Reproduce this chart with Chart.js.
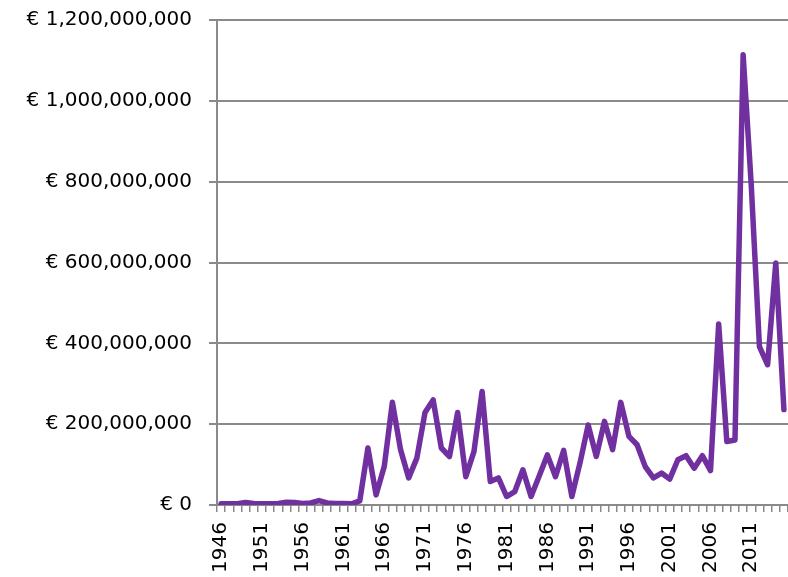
<!DOCTYPE html>
<html>
<head>
<meta charset="utf-8">
<script src="https://cdn.jsdelivr.net/npm/chart.js@4.4.1/dist/chart.umd.min.js"></script>
<style>
  html, body { margin: 0; padding: 0; background: #ffffff; }
  #c { display: block; }
</style>
</head>
<body>
<canvas id="c" width="788" height="577"></canvas>
<script>
const years = [1946,1947,1948,1949,1950,1951,1952,1953,1954,1955,
               1956,1957,1958,1959,1960,1961,1962,1963,1964,1965,
               1966,1967,1968,1969,1970,1971,1972,1973,1974,1975,
               1976,1977,1978,1979,1980,1981,1982,1983,1984,1985,
               1986,1987,1988,1989,1990,1991,1992,1993,1994,1995,
               1996,1997,1998,1999,2000,2001,2002,2003,2004,2005,
               2006,2007,2008,2009,2010,2011,2012,2013,2014,2015];

// values in millions of euro
const valuesMillions = [3,3,3,6,4,3,3,4,7,6,
                        4,5,11,5,4,4,3,10,141,25,
                        95,254,137,67,116,229,260,141,120,229,
                        70,132,281,58,67,21,33,87,21,72,
                        124,70,135,21,104,198,120,207,137,254,
                        170,149,95,67,79,64,112,122,91,122,
                        85,448,157,161,1114,790,392,347,599,236];

const shownYearLabels = [1946,1951,1956,1961,1966,1971,1976,1981,1986,1991,1996,2001,2006,2011];
const yTickValues = [0,200000000,400000000,600000000,800000000,1000000000,1200000000];

const values = valuesMillions.map(v => v * 1000000);

const gridGray = '#8a8a8a';
const fontSpec = { family: "'DejaVu Sans', sans-serif", size: 20 };

new Chart(document.getElementById('c'), {
  type: 'line',
  data: {
    labels: years.map(String),
    datasets: [{
      data: values,
      borderColor: '#7030A0',
      backgroundColor: '#7030A0',
      borderWidth: 5.5,
      pointRadius: 0,
      pointHoverRadius: 0,
      tension: 0,
      borderJoinStyle: 'round',
      borderCapStyle: 'round',
      fill: false
    }]
  },
  options: {
    responsive: false,
    animation: false,
    events: [],
    layout: { padding: { top: 20, right: 0, bottom: 0, left: 0 } },
    plugins: { legend: { display: false }, tooltip: { enabled: false } },
    scales: {
      x: {
        type: 'category',
        offset: true,
        grid: {
          offset: true,
          drawOnChartArea: false,
          drawTicks: true,
          tickLength: 7,
          color: gridGray,
          lineWidth: 1.5
        },
        border: { display: true, color: gridGray, width: 2 },
        ticks: {
          autoSkip: false,
          maxRotation: 90,
          minRotation: 90,
          padding: 10,
          color: '#000000',
          font: fontSpec,
          callback: function(value, index) {
            const yr = years[index];
            return shownYearLabels.includes(yr) ? String(yr) : '';
          }
        },
        afterFit: function(s) {
          s.height = 72;
          s.paddingLeft = 0;
          s.paddingRight = 0;
        }
      },
      y: {
        min: 0,
        max: 1200000000,
        afterBuildTicks: function(s) {
          s.ticks = yTickValues.map(v => ({ value: v }));
        },
        grid: {
          drawOnChartArea: true,
          drawTicks: true,
          tickLength: 8,
          color: gridGray,
          lineWidth: 2
        },
        border: { display: true, color: gridGray, width: 2 },
        ticks: {
          padding: 17,
          color: '#000000',
          font: fontSpec,
          callback: function(v) {
            return '€ ' + Number(v).toLocaleString('en-US');
          }
        },
        afterFit: function(s) {
          s.width = 217;
          s.paddingTop = 0;
          s.paddingBottom = 0;
        }
      }
    }
  }
});
</script>
</body>
</html>
